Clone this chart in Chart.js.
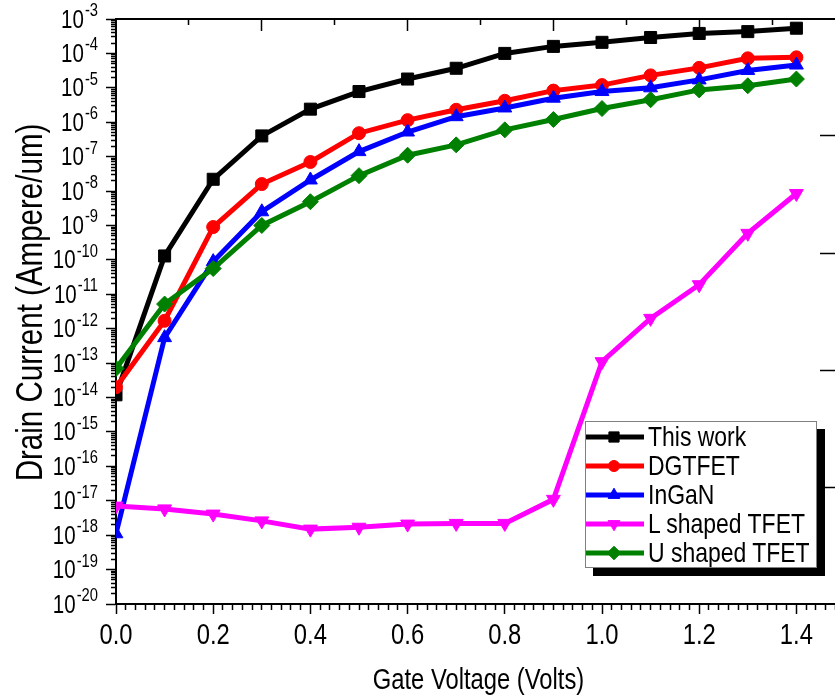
<!DOCTYPE html>
<html>
<head>
<meta charset="utf-8">
<script src="https://cdn.jsdelivr.net/npm/chart.js@4.4.1/dist/chart.umd.min.js"></script>
<style>
html,body{margin:0;padding:0;background:#fff;overflow:hidden;width:835px;height:700px;}
#wrap{position:relative;width:860px;height:700px;}
#c{display:block;}
#legend{position:absolute;left:585px;top:421px;width:232px;height:147px;border:1px solid #808080;background:#fff;box-shadow:8px 8px 0 #000;font-family:'Liberation Sans',Arial,sans-serif;font-size:28px;color:#000;box-sizing:border-box;overflow:hidden;}
.row{display:flex;align-items:center;height:29px;white-space:nowrap;}
.row canvas{display:block;margin-right:4px;flex:none;}
.row span{display:inline-block;line-height:29px;transform:scaleX(0.82);transform-origin:0 50%;}
</style>
</head>
<body>
<div id="wrap"><canvas id="c" width="860" height="700"></canvas><div id="legend"></div></div>
<script>
// ---- data ----
const gateVoltage = [0.0, 0.1, 0.2, 0.3, 0.4, 0.5, 0.6, 0.7, 0.8, 0.9, 1.0, 1.1, 1.2, 1.3, 1.4];
const thisWork  = [1.2e-14, 1.3e-10, 2.2e-8, 4.0e-7, 2.4e-6, 7.8e-6, 1.8e-5, 3.7e-5, 1.0e-4, 1.6e-4, 2.1e-4, 2.9e-4, 3.8e-4, 4.3e-4, 5.4e-4];
const dgtfet    = [2.0e-14, 1.7e-12, 9.0e-10, 1.6e-8, 7.0e-8, 4.8e-7, 1.15e-6, 2.3e-6, 4.2e-6, 8.3e-6, 1.2e-5, 2.3e-5, 3.8e-5, 7.2e-5, 7.7e-5];
const ingan     = [1.1e-18, 5.5e-13, 8.9e-11, 2.5e-9, 2.1e-8, 1.4e-7, 5.2e-7, 1.45e-6, 2.6e-6, 5.0e-6, 7.8e-6, 1.0e-5, 1.7e-5, 3.2e-5, 4.6e-5];
const lShaped   = [7.0e-18, 5.8e-18, 4.1e-18, 2.6e-18, 1.5e-18, 1.7e-18, 2.1e-18, 2.2e-18, 2.2e-18, 1.1e-17, 1.1e-13, 2.0e-12, 1.9e-11, 5.9e-10, 8.5e-9];
const uShaped   = [7.0e-14, 5.2e-12, 5.6e-11, 1.0e-9, 4.9e-9, 2.8e-8, 1.1e-7, 2.2e-7, 6.0e-7, 1.2e-6, 2.5e-6, 4.5e-6, 8.7e-6, 1.15e-5, 1.8e-5];
const seriesNames = ['This work', 'DGTFET', 'InGaN', 'L shaped TFET', 'U shaped TFET'];
const xTickLabels = ['0.0', '0.2', '0.4', '0.6', '0.8', '1.0', '1.2', '1.4'];
const yTickExponents = [-20, -19, -18, -17, -16, -15, -14, -13, -12, -11, -10, -9, -8, -7, -6, -5, -4, -3];
const xTitle = 'Gate Voltage (Volts)';
const yTitle = 'Drain Current (Ampere/um)';

// ---- styling ----
const FONT = "'Liberation Sans', Arial, sans-serif";
const NARROW = 0.82;   // horizontal condensing to imitate a narrow sans face
const styles = [
  {color: '#000000', pointStyle: 'rect', radius: 8.5, rotation: 0},
  {color: '#ff0000', pointStyle: 'circle', radius: 6.5, rotation: 0},
  {color: '#0000ff', pointStyle: 'triangle', radius: 8, rotation: 0},
  {color: '#ff00ff', pointStyle: 'triangle', radius: 8, rotation: 180},
  {color: '#008000', pointStyle: 'rectRot', radius: 8, rotation: 0}
];
const seriesValues = [thisWork, dgtfet, ingan, lShaped, uShaped];

const xMajorValues = xTickLabels.map(Number);
const isXMajor = v => xMajorValues.some(m => Math.abs(m - v) < 1e-6);
const xTickValues = [];
for (let i = 0; i <= 75; i++) xTickValues.push(Math.round(i * 2) / 100);
const topTickValues = [];
for (let i = 1; i <= 10; i++) topTickValues.push(Math.round(i * 15) / 100);
const yTickValues = [];
yTickExponents.forEach(e => {
  yTickValues.push(Number('1e' + e));
  if (e < -3) for (let m = 2; m <= 9; m++) yTickValues.push(Number(m + 'e' + e));
});
const isYMajor = v => { const l = Math.log10(v); return Math.abs(l - Math.round(l)) < 1e-6; };

function narrowText(g, text, x, y, size, align, rot) {
  g.save();
  g.translate(x, y);
  if (rot) g.rotate(rot);
  g.scale(NARROW, 1);
  g.font = size + 'px ' + FONT;
  g.textAlign = align;
  g.textBaseline = 'alphabetic';
  g.fillText(text, 0, 0);
  g.restore();
}
function narrowWidth(g, text, size) {
  g.save(); g.font = size + 'px ' + FONT;
  const w = g.measureText(text).width * NARROW;
  g.restore();
  return w;
}

// axis texts, placed with the chart's own scales
const axisTexts = {
  id: 'axisTexts',
  afterDraw(chart) {
    const g = chart.ctx, xs = chart.scales.x, ys = chart.scales.y, ca = chart.chartArea;
    g.save();
    g.fillStyle = '#000';
    // y-axis decade labels: "10" with raised exponent
    const right = ys.right - 10 - 8;
    yTickExponents.forEach(e => {
      const y = ys.getPixelForValue(Number('1e' + e));
      const exp = String(e);
      const we = narrowWidth(g, exp, 18);
      narrowText(g, exp, right - we, y - 3, 18, 'left');
      narrowText(g, '10', right - we - 1, y + 8.5, 25, 'right');
    });
    // x-axis labels
    xTickLabels.forEach(t => {
      narrowText(g, t, xs.getPixelForValue(Number(t)), xs.top + 40, 29, 'center');
    });
    // axis titles
    narrowText(g, xTitle, (ca.left + ca.right) / 2 - 2, xs.bottom - 11, 29, 'center');
    narrowText(g, yTitle, 42, (ca.top + ca.bottom) / 2 - 9, 36, 'center', -Math.PI / 2);
    g.restore();
  }
};

const datasets = seriesNames.map((name, i) => ({
  label: name,
  data: gateVoltage.map((x, j) => ({x: x, y: seriesValues[i][j]})),
  borderColor: styles[i].color,
  backgroundColor: styles[i].color,
  borderWidth: 5,
  pointStyle: styles[i].pointStyle,
  pointRadius: styles[i].radius,
  pointHoverRadius: styles[i].radius,
  pointRotation: styles[i].rotation,
  pointBorderWidth: 1,
  pointBorderColor: styles[i].color,
  pointBackgroundColor: styles[i].color,
  tension: 0,
  order: seriesNames.length - i,
  xAxisID: 'x',
  yAxisID: 'y'
}));

const chart = new Chart(document.getElementById('c'), {
  type: 'line',
  data: {datasets: datasets},
  plugins: [axisTexts],
  options: {
    responsive: false,
    animation: false,
    events: [],
    layout: {padding: 0},
    plugins: {legend: {display: false}, tooltip: {enabled: false}, title: {display: false}},
    scales: {
      x: {
        type: 'linear', position: 'bottom', min: 0, max: 1.5,
        afterBuildTicks: s => { s.ticks = xTickValues.map(v => ({value: v})); },
        afterFit: s => { s.height = 96; },
        grid: {
          drawOnChartArea: false, tickLength: 10, tickWidth: 1.5, tickColor: '#000',
          tickBorderDash: ctx => (ctx.tick && !isXMajor(ctx.tick.value)) ? [5, 100] : []
        },
        border: {display: true, color: '#000', width: 2},
        ticks: {display: false, autoSkip: false}
      },
      x2: {
        type: 'linear', position: 'top', min: 0, max: 1.5,
        afterBuildTicks: s => { s.ticks = topTickValues.map(v => ({value: v})); },
        afterFit: s => { s.height = 19; },
        grid: {
          drawOnChartArea: false, tickLength: -12, tickWidth: 1.5, tickColor: '#000',
          tickBorderDash: ctx => (ctx.tick && Math.abs(ctx.tick.value / 0.3 - Math.round(ctx.tick.value / 0.3)) > 1e-6) ? [0, 6, 6, 100] : []
        },
        border: {display: true, color: '#000', width: 2},
        ticks: {display: false}
      },
      y: {
        type: 'logarithmic', position: 'left', min: 1e-20, max: 1e-3,
        afterBuildTicks: s => { s.ticks = yTickValues.map(v => ({value: v})); },
        afterFit: s => { s.width = 116; },
        grid: {
          drawOnChartArea: false, tickLength: 10, tickWidth: 1.5, tickColor: '#000',
          tickBorderDash: ctx => (ctx.tick && !isYMajor(ctx.tick.value)) ? [0, 5, 5, 100] : []
        },
        border: {display: true, color: '#000', width: 2},
        ticks: {display: false, autoSkip: false}
      },
      y2: {
        type: 'linear', position: 'right', min: 0, max: 5,
        afterBuildTicks: s => { s.ticks = [1, 2, 3, 4].map(v => ({value: v})); },
        afterFit: s => { s.width = 15; },
        grid: {drawOnChartArea: false, tickLength: -25, tickWidth: 1.5, tickColor: '#000'},
        border: {display: true, color: '#000', width: 2},
        ticks: {display: false}
      }
    }
  }
});

// ---- legend (HTML, built from the dataset definitions) ----
const legendEl = document.getElementById('legend');
chart.data.datasets.forEach(ds => {
  const row = document.createElement('div');
  row.className = 'row';
  const cv = document.createElement('canvas');
  cv.width = 58; cv.height = 22;
  const g = cv.getContext('2d');
  g.strokeStyle = ds.borderColor; g.lineWidth = 5;
  g.beginPath(); g.moveTo(0, 11); g.lineTo(58, 11); g.stroke();
  g.fillStyle = ds.pointBackgroundColor; g.strokeStyle = ds.pointBorderColor; g.lineWidth = 1;
  if (Chart.helpers && Chart.helpers.drawPoint) {
    Chart.helpers.drawPoint(g, {pointStyle: ds.pointStyle, rotation: ds.pointRotation, radius: ds.pointRadius * 0.85, borderWidth: 1}, 28, 11);
  }
  row.appendChild(cv);
  const sp = document.createElement('span');
  sp.textContent = ds.label;
  row.appendChild(sp);
  legendEl.appendChild(row);
});
</script>
</body>
</html>
